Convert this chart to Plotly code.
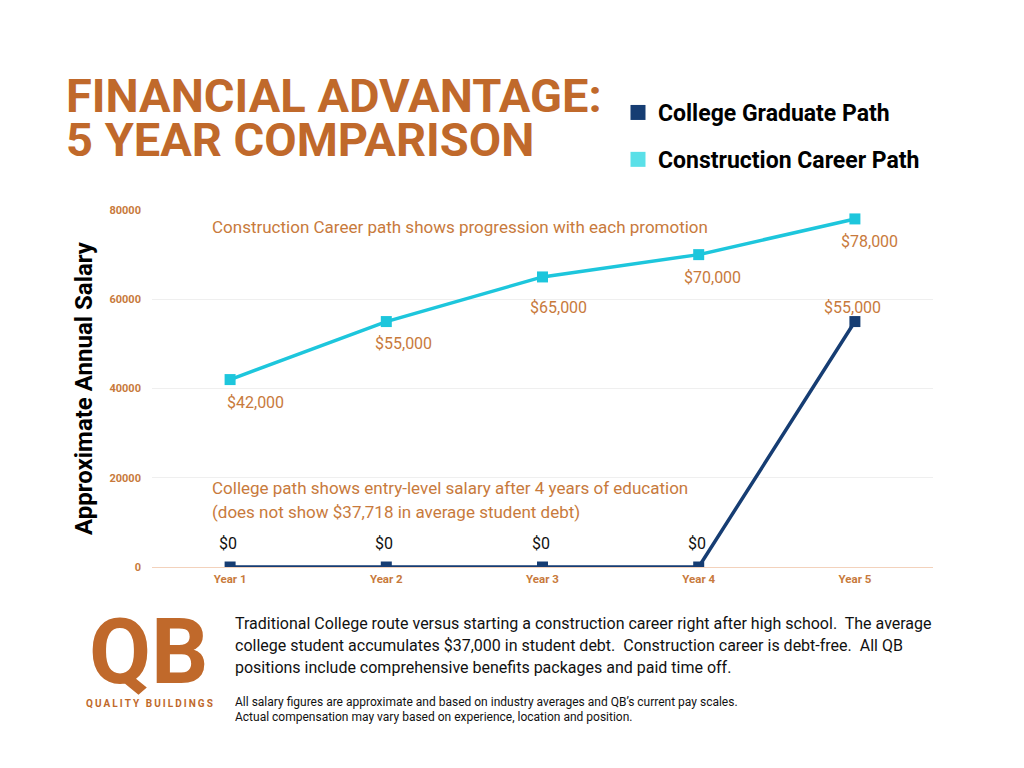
import plotly.graph_objects as go

# ---- data ----
years = ["Year 1", "Year 2", "Year 3", "Year 4", "Year 5"]
college_salary = [0, 0, 0, 0, 55000]
construction_salary = [42000, 55000, 65000, 70000, 78000]
series_names = ["College Graduate Path", "Construction Career Path"]
y_ticks = [0, 20000, 40000, 60000, 80000]

title_lines = ["FINANCIAL ADVANTAGE:", "5 YEAR COMPARISON"]
note_top = "Construction Career path shows progression with each promotion"
note_bottom = ["College path shows entry-level salary after 4 years of education",
               "(does not show $37,718 in average student debt)"]
body_text = ["Traditional College route versus starting a construction career right after high school.  The average",
             "college student accumulates $37,000 in student debt.  Construction career is debt-free.  All QB",
             "positions include comprehensive benefits packages and paid time off."]
small_text = ["All salary figures are approximate and based on industry averages and QB\u2019s current pay scales.",
              "Actual compensation may vary based on experience, location and position."]
logo_text = "QB"
logo_sub = "QUALITY BUILDINGS"

# ---- style ----
OFF = 8                      # page body margin
W, H = 1016, 760
L, R, T, B = 144, 91, 202, 201
NAVY = "#163D73"
CYAN = "#1DC6DC"
CYAN_LEG = "#5AE0E8"
ORANGE = "#C0692B"
ORANGE_TXT = "#C87A3C"
FONT = "Roboto"
# label offsets (pixels) for the construction-path value labels
lab_dx = [25, 17, 16, 14, 15]
lab_dy = [-23, -22, -31, -23, -23]

def px(x):
    return (x - OFF - L) / (W - L - R)

def py(y):
    return (H - B - (y - OFF)) / (H - T - B)

fig = go.Figure()

fig.add_trace(go.Scatter(x=years, y=construction_salary, mode="lines+markers",
                         line=dict(color=CYAN, width=3.5),
                         marker=dict(symbol="square", size=11, color=CYAN),
                         showlegend=False, hoverinfo="x+y"))
fig.add_trace(go.Scatter(x=years, y=college_salary, mode="lines+markers",
                         line=dict(color=NAVY, width=3.5),
                         marker=dict(symbol="square", size=11, color=NAVY),
                         showlegend=False, hoverinfo="x+y"))

# legend-only entries
fig.add_trace(go.Scatter(x=[None], y=[None], mode="markers", name=series_names[0],
                         legendgroup="a",
                         marker=dict(symbol="square", size=15, color=NAVY)))
fig.add_trace(go.Scatter(x=[None], y=[None], mode="markers", name=series_names[1],
                         legendgroup="b",
                         marker=dict(symbol="square", size=15, color=CYAN_LEG)))

annotations = []
# value labels
for i, (yr, v) in enumerate(zip(years, construction_salary)):
    annotations.append(dict(x=yr, y=v, xref="x", yref="y", text=f"${v:,}",
                            showarrow=False, xshift=lab_dx[i], yshift=lab_dy[i],
                            font=dict(family=FONT, size=16, color=ORANGE_TXT)))
for yr, v in zip(years, college_salary):
    annotations.append(dict(x=yr, y=v, xref="x", yref="y", text=f"${v:,}",
                            showarrow=False, xshift=-2, yshift=24 if v == 0 else 14,
                            font=dict(family=FONT, size=16,
                                      color="#111111" if v == 0 else ORANGE_TXT)))

# notes inside plot
annotations.append(dict(x=px(210), y=py(227), xref="paper", yref="paper", text=note_top,
                        showarrow=False, xanchor="left", yanchor="middle",
                        font=dict(family=FONT, size=17, color=ORANGE_TXT)))
for k, line in enumerate(note_bottom):
    annotations.append(dict(x=px(210), y=py(488 + 24 * k), xref="paper", yref="paper", text=line,
                            showarrow=False, xanchor="left", yanchor="middle",
                            font=dict(family=FONT, size=17, color=ORANGE_TXT)))

# title
for k, line in enumerate(title_lines):
    annotations.append(dict(x=px(64), y=py(95 + 44 * k), xref="paper", yref="paper",
                            text=f"<b>{line}</b>", showarrow=False,
                            xanchor="left", yanchor="middle",
                            font=dict(family=FONT, size=47, color=ORANGE)))

# bottom body text
for k, line in enumerate(body_text):
    annotations.append(dict(x=px(233), y=py(623 + 22 * k), xref="paper", yref="paper",
                            text=line, showarrow=False, xanchor="left", yanchor="middle",
                            font=dict(family=FONT, size=16, color="#111111")))
for k, line in enumerate(small_text):
    annotations.append(dict(x=px(233), y=py(702 + 15 * k), xref="paper", yref="paper",
                            text=line, showarrow=False, xanchor="left", yanchor="middle",
                            font=dict(family=FONT, size=12, color="#111111")))

# logo approximation
annotations.append(dict(x=px(149), y=py(707), xref="paper", yref="paper",
                        text=f"<b>{logo_text}</b>", showarrow=False,
                        xanchor="center", yanchor="bottom",
                        font=dict(family=FONT, size=90, color=ORANGE, weight=900)))
annotations.append(dict(x=px(149), y=py(703), xref="paper", yref="paper",
                        text="<b>" + "\u2009".join(logo_sub) + "</b>", showarrow=False,
                        xanchor="center", yanchor="middle",
                        font=dict(family=FONT, size=10, color=ORANGE)))

fig.update_layout(
    width=W, height=H,
    margin=dict(l=L, r=R, t=T, b=B),
    paper_bgcolor="white", plot_bgcolor="white",
    font=dict(family=FONT),
    showlegend=True,
    legend=dict(x=px(618), y=py(91), xref="paper", yref="paper",
                xanchor="left", yanchor="top",
                font=dict(family=FONT, size=23, color="#000000", weight="bold"),
                tracegroupgap=14, itemwidth=30, bgcolor="rgba(0,0,0,0)"),
    annotations=annotations,
)

fig.update_xaxes(type="category", range=[-0.5, 4.5], showgrid=False, zeroline=False,
                 showline=False, ticks="", ticklabelstandoff=3,
                 tickfont=dict(family=FONT, size=11.5, color=ORANGE_TXT, weight="bold"))
fig.update_yaxes(range=[0, 80000], tickvals=y_ticks, ticktext=[str(t) for t in y_ticks],
                 showgrid=True, gridcolor="#EFEFEF", gridwidth=1,
                 zeroline=True, zerolinecolor="#F3D2BC", zerolinewidth=1,
                 showline=False, ticks="", ticklabelstandoff=10,
                 tickfont=dict(family=FONT, size=11, color=ORANGE_TXT, weight="bold"),
                 title=dict(text="<b>Approximate Annual Salary</b>", standoff=10,
                            font=dict(family=FONT, size=24, color="#000000")))

fig.write_html("out.html")
